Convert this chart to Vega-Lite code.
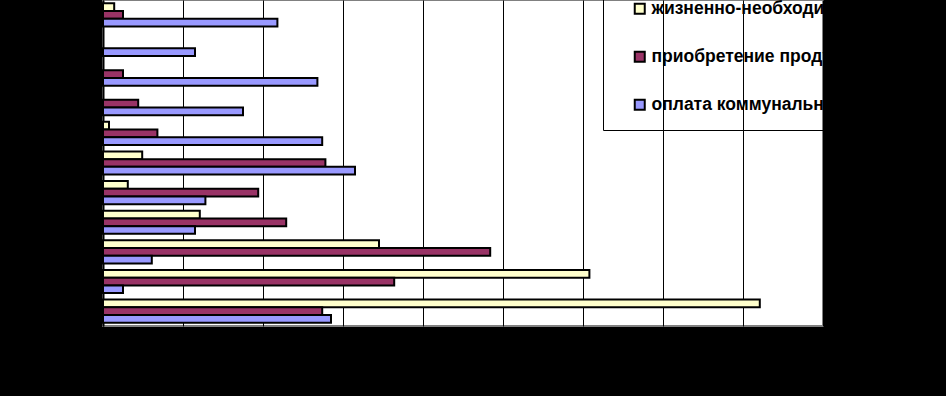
{
  "$schema": "https://vega.github.io/schema/vega-lite/v6.json",
  "autosize": {"type": "none"},
  "width": 720,
  "height": 326,
  "padding": {"left": 103, "top": 0, "right": 123, "bottom": 70},
  "background": "#000000",
  "config": {
    "view": {"fill": "#FFFFFF", "stroke": "#808080", "strokeWidth": 2},
    "font": "Liberation Sans"
  },
  "data": {
    "values": [
      {"group": "g01", "series": "жизненно-необходимые товары", "value": 0.7},
      {"group": "g01", "series": "приобретение продуктов питания", "value": 1.25},
      {"group": "g01", "series": "оплата коммунальных услуг", "value": 10.9},
      {"group": "g02", "series": "оплата коммунальных услуг", "value": 5.75},
      {"group": "g03", "series": "приобретение продуктов питания", "value": 1.25},
      {"group": "g03", "series": "оплата коммунальных услуг", "value": 13.4},
      {"group": "g04", "series": "приобретение продуктов питания", "value": 2.2},
      {"group": "g04", "series": "оплата коммунальных услуг", "value": 8.75},
      {"group": "g05", "series": "жизненно-необходимые товары", "value": 0.375},
      {"group": "g05", "series": "приобретение продуктов питания", "value": 3.4},
      {"group": "g05", "series": "оплата коммунальных услуг", "value": 13.7},
      {"group": "g06", "series": "жизненно-необходимые товары", "value": 2.45},
      {"group": "g06", "series": "приобретение продуктов питания", "value": 13.9},
      {"group": "g06", "series": "оплата коммунальных услуг", "value": 15.75},
      {"group": "g07", "series": "жизненно-необходимые товары", "value": 1.55},
      {"group": "g07", "series": "приобретение продуктов питания", "value": 9.7},
      {"group": "g07", "series": "оплата коммунальных услуг", "value": 6.4},
      {"group": "g08", "series": "жизненно-необходимые товары", "value": 6.05},
      {"group": "g08", "series": "приобретение продуктов питания", "value": 11.45},
      {"group": "g08", "series": "оплата коммунальных услуг", "value": 5.75},
      {"group": "g09", "series": "жизненно-необходимые товары", "value": 17.25},
      {"group": "g09", "series": "приобретение продуктов питания", "value": 24.2},
      {"group": "g09", "series": "оплата коммунальных услуг", "value": 3.05},
      {"group": "g10", "series": "жизненно-необходимые товары", "value": 30.4},
      {"group": "g10", "series": "приобретение продуктов питания", "value": 18.2},
      {"group": "g10", "series": "оплата коммунальных услуг", "value": 1.25},
      {"group": "g11", "series": "жизненно-необходимые товары", "value": 41.05},
      {"group": "g11", "series": "приобретение продуктов питания", "value": 13.7},
      {"group": "g11", "series": "оплата коммунальных услуг", "value": 14.25}
    ]
  },
  "mark": {"type": "bar", "stroke": "#000000", "strokeWidth": 2, "cornerRadius": 0},
  "encoding": {
    "y": {
      "field": "group",
      "type": "nominal",
      "scale": {"domain": ["g01","g02","g03","g04","g05","g06","g07","g08","g09","g10","g11"], "paddingInner": 0.22, "paddingOuter": 0.11},
      "axis": {"labels": false, "ticks": false, "title": null, "domain": true, "domainColor": "#000000", "domainWidth": 2}
    },
    "yOffset": {
      "field": "series",
      "type": "nominal",
      "scale": {"domain": ["жизненно-необходимые товары", "приобретение продуктов питания", "оплата коммунальных услуг"], "paddingInner": 0, "paddingOuter": 0}
    },
    "x": {
      "field": "value",
      "type": "quantitative",
      "scale": {"domain": [0, 45], "nice": false, "zero": true},
      "axis": {
        "values": [0, 5, 10, 15, 20, 25, 30, 35, 40, 45],
        "labels": false,
        "ticks": false,
        "title": null,
        "domain": false,
        "grid": true,
        "gridColor": "#000000",
        "gridOpacity": 1,
        "gridWidth": 1
      }
    },
    "color": {
      "field": "series",
      "type": "nominal",
      "scale": {
        "domain": ["жизненно-необходимые товары", "приобретение продуктов питания", "оплата коммунальных услуг"],
        "range": ["#FFFFCC", "#993366", "#9999FF"]
      },
      "legend": {
        "title": null,
        "orient": "none",
        "legendX": 500,
        "legendY": -16,
        "padding": 16,
        "strokeColor": "#000000",
        "symbolType": "square",
        "symbolSize": 100,
        "symbolStrokeColor": "#000000",
        "symbolStrokeWidth": 2,
        "symbolOffset": 12,
        "labelFont": "Liberation Sans",
        "labelFontWeight": "bold",
        "labelFontSize": 17.5,
        "labelColor": "#000000",
        "labelOffset": 3,
        "labelLimit": 1000,
        "rowPadding": 29
      }
    }
  }
}
